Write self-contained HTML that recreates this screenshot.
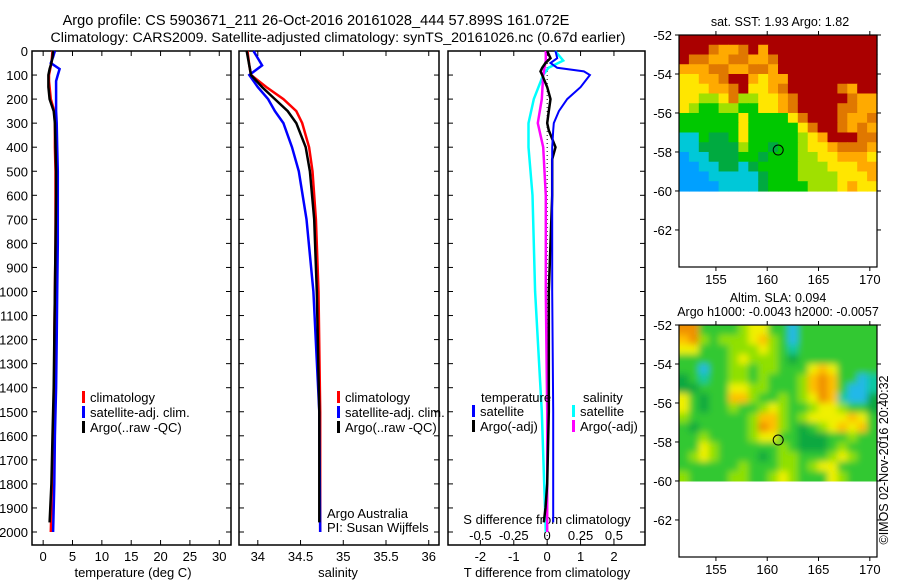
<!DOCTYPE html>
<html><head><meta charset="utf-8"><style>
body{margin:0;background:#fff;}
svg{display:block;font-family:"Liberation Sans",sans-serif;}
text{fill:#000;}
</style></head><body>
<svg id="fig" width="900" height="580" viewBox="0 0 900 580">
<defs>
<filter id="blur" x="-5%" y="-5%" width="110%" height="110%"><feGaussianBlur stdDeviation="3.5"/></filter>
<clipPath id="slaClip"><rect x="679" y="325" width="198" height="156.5"/></clipPath>
</defs>
<text x="316" y="25" font-size="14.6" text-anchor="middle">Argo profile: CS 5903671_211 26-Oct-2016 20161028_444 57.899S 161.072E</text>
<text x="338" y="42" font-size="14.2" text-anchor="middle">Climatology: CARS2009. Satellite-adjusted climatology: synTS_20161026.nc (0.67d earlier)</text>
<g id="g"></g>
</svg>
<script>
// ---- profile data ----
const depths = [0,25,50,75,100,125,150,200,250,300,400,500,600,800,1000,1200,1400,1600,1800,2000];
const tempClim = [1.6,1.5,1.4,1.2,1.0,1.0,1.1,1.3,1.9,2.0,2.0,2.1,2.1,2.1,2.0,1.9,1.9,1.7,1.5,1.3];
const tempArgo = [1.7,1.6,1.4,1.1,0.9,0.9,0.9,1.1,1.8,2.0,2.1,2.2,2.2,2.1,2.0,1.9,1.8,1.6,1.4,1.1];
const tempSat  = [2.0,1.7,1.3,2.8,2.5,2.2,2.2,2.2,2.2,2.3,2.4,2.5,2.5,2.5,2.4,2.3,2.2,2.0,1.9,1.7];
const salDepths = [0,60,100,150,200,250,300,400,500,700,1000,1500,2000];
const salClim = [33.88,33.9,33.92,34.1,34.3,34.45,34.52,34.6,34.64,34.68,34.71,34.73,34.73];
const salArgo = [33.87,33.9,33.92,34.05,34.2,34.35,34.45,34.56,34.61,34.66,34.69,34.72,34.72];
const salSat  = [33.95,34.05,33.9,34.0,34.12,34.2,34.3,34.4,34.48,34.57,34.65,34.72,34.73];
const diffDepths = [0,30,50,70,85,100,150,200,250,300,330,400,450,600,1000,1500,1800,1900,1960];
const tdiffSat  = [0.25,0.3,0.1,0.3,1.1,1.28,1.0,0.6,0.35,0.2,0.18,0.15,0.15,0.15,0.15,0.18,0.18,0.18,0.18];
const tdiffArgo = [0,0.1,-0.05,-0.15,-0.2,-0.15,0,0.1,0.05,0,0.05,0.25,0.15,0.15,0.05,0.05,0,-0.05,-0.1];
const sDepths = [0,40,70,100,200,300,400,600,1000,1500,2000];
const sdiffSat  = [0.06,0.12,0.01,-0.03,-0.1,-0.14,-0.14,-0.11,-0.09,-0.04,-0.01];
const sdiffArgo = [-0.01,-0.01,-0.02,-0.03,-0.04,-0.07,-0.03,-0.01,-0.01,0,0];
const depthTicks = [0,100,200,300,400,500,600,700,800,900,1000,1100,1200,1300,1400,1500,1600,1700,1800,1900,2000];
const tempTicks = [0,5,10,15,20,25,30];
const salTicks = [34,34.5,35,35.5,36];
const tdTicks = [-2,-1,0,1,2];
const sdTicks = [-0.5,-0.25,0,0.25,0.5];
// ---- map data (one char per cell, level index) ----
const sstGrid = [
"88888888888888888888",
"88876678688888888888",
"87766776678888888888",
"66677667768888888888",
"55667886566888888888",
"55566785567888887688",
"55445744556788888766",
"54334433556788887766",
"33333353333578887667",
"33333353333357887676",
"11322353333345688877",
"11222243323345567776",
"01122233233344556665",
"00112212333344455566",
"00011111233344445556",
"00001111233334445655"];
const sstCols = ["#00a0ff","#00c8d8","#00aa40","#00c800","#a0e000","#ffe600","#ffaa00","#e07800","#aa0000"];
const slaGrid = [
"77333345533033333333",
"67434445643033333333",
"55333444543133333333",
"33333454443233333333",
"33033443443335653333",
"23133443433346763301",
"22333554433346763001",
"53233664334345761002",
"53233433454334554332",
"43333334664345555653",
"32333334764323456563",
"33433334553322233433",
"33543333334322234333",
"34543333234433345433",
"33333343334434553333",
"43333443345433354333"];
const slaCols = ["#20b8e8","#10c8a0","#10a840","#30c830","#90e000","#f0f000","#ffc000","#f09000","#c04000"];

const NS="http://www.w3.org/2000/svg";
const G=document.getElementById('g');
function el(tag,attrs,parent){const e=document.createElementNS(NS,tag);for(const k in attrs)e.setAttribute(k,attrs[k]);(parent||G).appendChild(e);return e;}
function txt(x,y,s,size,anchor,parent){const t=el('text',{x:x,y:y,'font-size':size||13,'text-anchor':anchor||'start'},parent);t.textContent=s;return t;}

const Y0=51, PPM=0.2405, YB=545;
const yD=d=>Y0+d*PPM;

function panel(name,x0,x1,xmin,xmax){
  const sx=v=>x0+(v-xmin)/(xmax-xmin)*(x1-x0);
  const g=el('g',{});
  
  
  el('rect',{x:x0,y:Y0,width:x1-x0,height:YB-Y0,fill:'none',stroke:'#000','stroke-width':1.5},g);
  depthTicks.forEach(d=>{el('line',{x1:x0,x2:x0+5,y1:yD(d),y2:yD(d),stroke:'#000'},g);el('line',{x1:x1-5,x2:x1,y1:yD(d),y2:yD(d),stroke:'#000'},g);});
  return {sx,g};
}
function line(g,xs,ds,sx,color,name,w){
  const p=xs.map((v,i)=>sx(v).toFixed(1)+','+yD(ds[i]).toFixed(1)).join(' ');
  const l=el('polyline',{points:p,fill:'none',stroke:color,'stroke-width':w||2.5,'stroke-linejoin':'miter'},g);
  
  
}
function legend(g,x,y,items){
  items.forEach((it,i)=>{el('rect',{x:x,y:y+i*15-11,width:3,height:12,fill:it[0]},g);const t=txt(x+8,y+i*15,it[1],13,'start',g);});
}

// Panel 1 temperature
let P=panel('temperature-panel',32,231,-1.9,32);
depthTicks.forEach(d=>{txt(28,yD(d)+5,String(d),13,'end',P.g);});
tempTicks.forEach(v=>{const x=P.sx(v);el('line',{x1:x,x2:x,y1:YB,y2:YB-5,stroke:'#000'},P.g);el('line',{x1:x,x2:x,y1:Y0,y2:Y0+5,stroke:'#000'},P.g);txt(x,561,String(v),13,'middle',P.g);});
txt(133,577,'temperature (deg C)',13,'middle',P.g);
line(P.g,tempClim,depths,P.sx,'#f00','temp-climatology-line');
line(P.g,tempSat,depths,P.sx,'#00f','temp-satellite-line');
line(P.g,tempArgo.slice(0,19).concat([1.1]),depths.slice(0,19).concat([1960]),P.sx,'#000','temp-argo-line');
legend(P.g,82,402,[['#f00','climatology'],['#00f','satellite-adj. clim.'],['#000','Argo(..raw -QC)']]);

// Panel 2 salinity
P=panel('salinity-panel',239,439,33.78,36.12);
salTicks.forEach(v=>{const x=P.sx(v);el('line',{x1:x,x2:x,y1:YB,y2:YB-5,stroke:'#000'},P.g);el('line',{x1:x,x2:x,y1:Y0,y2:Y0+5,stroke:'#000'},P.g);txt(x,561,String(v),13,'middle',P.g);});
txt(338,577,'salinity',13,'middle',P.g);
line(P.g,salClim,salDepths,P.sx,'#f00','sal-climatology-line');
line(P.g,salSat,salDepths,P.sx,'#00f','sal-satellite-line');
line(P.g,salArgo.slice(0,12).concat([34.72]),salDepths.slice(0,12).concat([1960]),P.sx,'#000','sal-argo-line');
legend(P.g,337,402,[['#f00','climatology'],['#00f','satellite-adj. clim.'],['#000','Argo(..raw -QC)']]);
txt(327,518,'Argo Australia',13,'start',P.g);
txt(327,532,'PI: Susan Wijffels',13,'start',P.g);

// Panel 3 differences
P=panel('difference-panel',448,645,-2.97,2.93);
const sxS=v=>P.sx(v*4);
tdTicks.forEach(v=>{const x=P.sx(v);el('line',{x1:x,x2:x,y1:YB,y2:YB-5,stroke:'#000'},P.g);txt(x,561,String(v),13,'middle',P.g);});
sdTicks.forEach(v=>{const x=sxS(v);el('line',{x1:x,x2:x,y1:Y0,y2:Y0+5,stroke:'#000'},P.g);txt(x,540,String(v),13,'middle',P.g);});
txt(547,577,'T difference from climatology',13,'middle',P.g);
txt(547,524,'S difference from climatology',13,'middle',P.g);
el('line',{x1:P.sx(0),x2:P.sx(0),y1:Y0,y2:YB,stroke:'#000','stroke-dasharray':'1,3'},P.g);
line(P.g,sdiffSat,sDepths,sxS,'#0ff','sdiff-satellite-line');
line(P.g,sdiffArgo,sDepths,sxS,'#f0f','sdiff-argo-line');
line(P.g,tdiffArgo,diffDepths,P.sx,'#000','tdiff-argo-line');
line(P.g,tdiffSat,diffDepths,P.sx,'#00f','tdiff-satellite-line',2);
txt(481,402,'temperature',13,'start',P.g);
txt(583,402,'salinity',13,'start',P.g);
legend(P.g,472,416,[['#00f','satellite'],['#000','Argo(-adj)']]);
legend(P.g,572,416,[['#0ff','satellite'],['#f0f','Argo(-adj)']]);

// Maps
const lonTicks=[155,160,165,170], latTicks=[-52,-54,-56,-58,-60,-62];
function map(name,top,grid,cols,smooth){
  const x0=679,x1=877,bot=top+232;
  const lx=lon=>x0+(lon-151.4)/(170.7-151.4)*(x1-x0);
  const ly=lat=>top+(-52-lat)/(63.9-52)*(bot-top);
  const g=el('g',{});
  
  
  let cg=g;
  if(smooth){const clip=el('g',{'clip-path':'url(#slaClip)'},g);cg=el('g',{filter:'url(#blur)'},clip);}
  const rows=grid.length,nc=grid[0].length;
  const cw=(x1-x0)/nc, ch=(ly(-60)-top)/rows;
  grid.forEach((r,i)=>{for(let j=0;j<nc;j++){
    let x=x0+j*cw,y=top+i*ch,w=cw+0.6,h=ch+0.6;
    if(smooth){if(j===0){x-=8;w+=8;}if(j===nc-1)w+=8;if(i===0){y-=8;h+=8;}if(i===rows-1)h+=8;}
    const c=el('rect',{x:x.toFixed(2),y:y.toFixed(2),width:w.toFixed(2),height:h.toFixed(2),fill:cols[+r[j]]},cg);
    
    }});
  el('rect',{x:x0,y:top,width:x1-x0,height:bot-top,fill:'none',stroke:'#000','stroke-width':1.2},g);
  lonTicks.forEach(v=>{const x=lx(v);el('line',{x1:x,x2:x,y1:top,y2:top-4,stroke:'#000'},g);el('line',{x1:x,x2:x,y1:bot,y2:bot+4,stroke:'#000'},g);txt(x,bot+17,String(v),13,'middle',g);});
  latTicks.forEach(v=>{const y=ly(v);el('line',{x1:x0,x2:x0-4,y1:y,y2:y,stroke:'#000'},g);el('line',{x1:x1,x2:x1+4,y1:y,y2:y,stroke:'#000'},g);txt(x0-7,y+5,String(v),13,'end',g);});
  const c=el('circle',{cx:lx(161.07),cy:ly(-57.9),r:5,fill:'none',stroke:'#000','stroke-width':1},g);
  
  
  return g;
}
const m1=map('sst-map',35,sstGrid,sstCols,false);
txt(780,26,'sat. SST: 1.93 Argo: 1.82',12.5,'middle',m1);
const m2=map('sla-map',325,slaGrid,slaCols,true);
txt(778,302,'Altim. SLA: 0.094',12.5,'middle',m2);
txt(778,316,'Argo h1000: -0.0043 h2000: -0.0057',12.5,'middle',m2);
const r=txt(0,0,'©IMOS 02-Nov-2016 20:40:32',12.5,'middle',m2);
r.setAttribute('transform','translate(888,460) rotate(-90)');


</script>
</body></html>
